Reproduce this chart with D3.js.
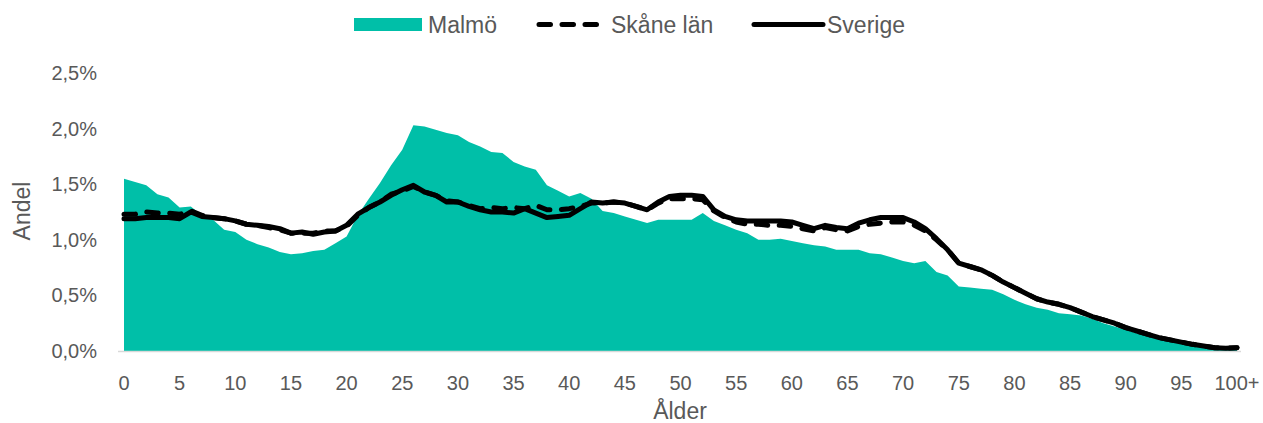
<!DOCTYPE html>
<html>
<head>
<meta charset="utf-8">
<script src="https://cdn.jsdelivr.net/npm/d3@7"></script>
<style>
  body { margin: 0; background: #fff; }
  text { font-family: "Liberation Sans", Arial, sans-serif; fill: #595959; }
</style>
</head>
<body>
<div id="chart"></div>
<script>
// == DATA == //
const ages = d3.range(0, 101);
const xTickLabels = ["0","5","10","15","20","25","30","35","40","45","50","55","60","65","70","75","80","85","90","95","100+"];
const yTicks = [0, 0.005, 0.01, 0.015, 0.02, 0.025];

// share of population per age, percent
const malmo = [1.55,1.52,1.49,1.41,1.38,1.29,1.30,1.22,1.18,1.09,1.07,1.00,0.96,0.93,0.89,0.87,0.88,0.90,0.91,0.97,
  1.03,1.22,1.37,1.51,1.67,1.81,2.03,2.02,1.99,1.96,1.94,1.88,1.84,1.79,1.78,1.70,1.66,1.63,1.49,1.44,
  1.39,1.42,1.37,1.26,1.24,1.21,1.18,1.15,1.18,1.18,1.18,1.18,1.24,1.17,1.13,1.09,1.06,1.00,1.00,1.01,
  0.99,0.97,0.95,0.94,0.91,0.91,0.91,0.88,0.87,0.84,0.81,0.79,0.81,0.71,0.68,0.58,0.57,0.56,0.55,0.51,
  0.46,0.42,0.39,0.37,0.34,0.33,0.32,0.29,0.25,0.22,0.19,0.16,0.13,0.11,0.08,0.07,0.05,0.03,0.02,0.01,0.01];

const skane = [1.23,1.23,1.25,1.24,1.24,1.23,1.26,1.22,1.20,1.19,1.17,1.14,1.13,1.11,1.09,1.06,1.06,1.06,1.08,1.08,
  1.12,1.22,1.29,1.34,1.41,1.44,1.48,1.43,1.40,1.35,1.34,1.31,1.28,1.29,1.28,1.29,1.28,1.31,1.27,1.27,
  1.28,1.30,1.33,1.33,1.34,1.33,1.30,1.27,1.33,1.37,1.37,1.37,1.36,1.26,1.20,1.16,1.14,1.14,1.13,1.13,
  1.12,1.10,1.08,1.11,1.09,1.08,1.12,1.14,1.15,1.16,1.16,1.13,1.08,1.00,0.91,0.79,0.76,0.73,0.68,0.62,
  0.57,0.52,0.47,0.44,0.42,0.39,0.35,0.31,0.28,0.25,0.21,0.18,0.15,0.12,0.10,0.08,0.06,0.045,0.03,0.025,0.03];

const sverige = [1.19,1.19,1.20,1.20,1.20,1.19,1.25,1.21,1.20,1.19,1.17,1.14,1.13,1.12,1.10,1.06,1.07,1.05,1.07,1.08,
  1.13,1.23,1.29,1.34,1.40,1.45,1.49,1.43,1.40,1.34,1.34,1.30,1.27,1.25,1.25,1.24,1.28,1.24,1.20,1.21,
  1.22,1.28,1.34,1.33,1.34,1.33,1.30,1.27,1.34,1.39,1.40,1.40,1.39,1.27,1.21,1.18,1.17,1.17,1.17,1.17,
  1.16,1.13,1.10,1.13,1.11,1.10,1.15,1.18,1.20,1.20,1.20,1.16,1.10,1.01,0.91,0.79,0.76,0.73,0.68,0.62,
  0.57,0.52,0.47,0.44,0.42,0.39,0.35,0.31,0.28,0.25,0.21,0.18,0.15,0.12,0.10,0.08,0.06,0.045,0.03,0.025,0.03];

const teal = "#00bfa8";

// == SVG == //
const width = 1263, height = 423;
const svg = d3.select("#chart").append("svg")
  .attr("width", width)
  .attr("height", height);

const x = d3.scaleLinear().domain([0, 100]).range([124, 1237]);
const y = d3.scaleLinear().domain([0, 0.025]).range([351, 73]);

// y axis labels
const fmt = v => (v * 100).toFixed(1).replace(".", ",") + "%";
svg.append("g")
  .selectAll("text")
  .data(yTicks)
  .join("text")
  .attr("x", 97)
  .attr("y", d => y(d))
  .attr("dy", "0.35em")
  .attr("text-anchor", "end")
  .attr("font-size", "20px")
  .text(fmt);

// malmö area
const area = d3.area()
  .x((d, i) => x(ages[i]))
  .y0(y(0))
  .y1(d => y(d / 100));

svg.append("path")
  .datum(malmo)
  .attr("fill", teal)
  .attr("d", area);

// x axis line
svg.append("line")
  .attr("x1", 118).attr("x2", 1241)
  .attr("y1", y(0) + 0.5).attr("y2", y(0) + 0.5)
  .attr("stroke", "#d9d9d9")
  .attr("stroke-width", 1.5);

// x tick labels
svg.append("g")
  .selectAll("text")
  .data(xTickLabels)
  .join("text")
  .attr("x", (d, i) => x(i * 5))
  .attr("y", 383)
  .attr("dy", "0.35em")
  .attr("text-anchor", "middle")
  .attr("font-size", "20px")
  .text(d => d);

// lines
const line = d3.line()
  .x((d, i) => x(ages[i]))
  .y(d => y(d / 100));

svg.append("path")
  .datum(skane)
  .attr("fill", "none")
  .attr("stroke", "#000")
  .attr("stroke-width", 5)
  .attr("stroke-dasharray", "11.5,11.5")
  .attr("stroke-linecap", "round")
  .attr("stroke-linejoin", "round")
  .attr("d", line);

svg.append("path")
  .datum(sverige)
  .attr("fill", "none")
  .attr("stroke", "#000")
  .attr("stroke-width", 5)
  .attr("stroke-linejoin", "round")
  .attr("stroke-linecap", "round")
  .attr("d", line);

// axis titles
svg.append("text")
  .attr("transform", "translate(30,211) rotate(-90)")
  .attr("text-anchor", "middle")
  .attr("font-size", "23px")
  .text("Andel");

svg.append("text")
  .attr("x", 680)
  .attr("y", 419)
  .attr("text-anchor", "middle")
  .attr("font-size", "23px")
  .text("Ålder");

// == LEGEND == //
const leg = svg.append("g");
leg.append("rect")
  .attr("x", 354).attr("y", 18)
  .attr("width", 68).attr("height", 13)
  .attr("fill", teal);
leg.append("text").attr("x", 428).attr("y", 24.5).attr("dy", "0.35em")
  .attr("font-size", "23px").text("Malmö");

leg.append("line")
  .attr("x1", 539).attr("x2", 600)
  .attr("y1", 24.5).attr("y2", 24.5)
  .attr("stroke", "#000").attr("stroke-width", 5)
  .attr("stroke-linecap", "round")
  .attr("stroke-dasharray", "11.5,11.5");
leg.append("text").attr("x", 611).attr("y", 24.5).attr("dy", "0.35em")
  .attr("font-size", "23px").text("Skåne län");

leg.append("line")
  .attr("x1", 754).attr("x2", 823)
  .attr("y1", 24.5).attr("y2", 24.5)
  .attr("stroke", "#000").attr("stroke-width", 5)
  .attr("stroke-linecap", "round");
leg.append("text").attr("x", 827).attr("y", 24.5).attr("dy", "0.35em")
  .attr("font-size", "23px").text("Sverige");
</script>
</body>
</html>
